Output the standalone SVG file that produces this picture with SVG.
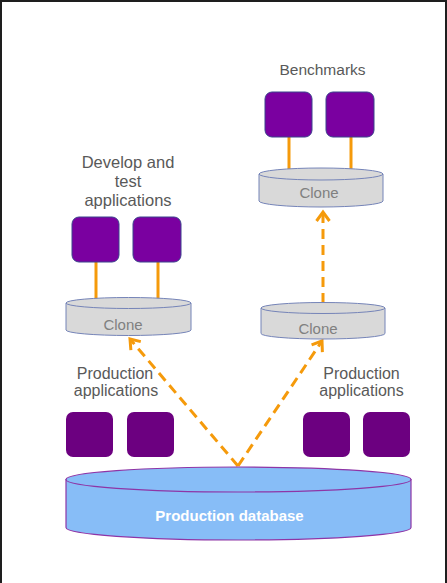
<svg xmlns="http://www.w3.org/2000/svg" width="447" height="583" viewBox="0 0 447 583">
<style>
.lbl{font-family:"Liberation Sans",Arial,sans-serif;fill:#595959;text-anchor:middle}
.clone-t{font-family:"Liberation Sans",Arial,sans-serif;fill:#808080;font-size:15px;text-anchor:middle}
.clone{fill:#d9d9d9;stroke:#7584b8;stroke-width:1}
.db{fill:#87bdf7;stroke:#8e35a6;stroke-width:1.2}
.app{fill:#7a00a0;stroke:#3a428c;stroke-width:1}
.papp{fill:#6c0080}
.link{stroke:#f59a0b;stroke-width:3;fill:none}
.dash{stroke:#f59a0b;stroke-width:3;fill:none;stroke-dasharray:10 6}
</style>
<defs>
<marker id="chev" markerUnits="userSpaceOnUse" markerWidth="20" markerHeight="20" viewBox="-12 -10 16 20" refX="0" refY="0" orient="auto" overflow="visible">
<path d="M-9,-6.5 L0,0 L-9,6.5" fill="none" stroke="#f59a0b" stroke-width="3" stroke-dasharray="none"/>
</marker>
</defs>
<rect x="0" y="0" width="447" height="583" fill="#ffffff"/>
<path d="M1,583 V1 H446 V583" fill="none" stroke="#1e1e1e" stroke-width="2"/>

<g id="label-benchmarks"><text class="lbl" x="322.5" y="75" font-size="15.5">Benchmarks</text></g>
<g id="label-develop"><text class="lbl" font-size="16.5"><tspan x="128" y="168">Develop and</tspan><tspan x="128" y="187">test</tspan><tspan x="128" y="206">applications</tspan></text></g>
<g id="label-prod-left"><text class="lbl" font-size="16"><tspan x="115" y="379">Production</tspan><tspan x="116" y="396">applications</tspan></text></g>
<g id="label-prod-right"><text class="lbl" font-size="16"><tspan x="361.5" y="379">Production</tspan><tspan x="361.5" y="396">applications</tspan></text></g>

<g id="connectors">
<line class="link" x1="289" y1="137" x2="289" y2="176"/>
<line class="link" x1="351" y1="137" x2="351" y2="176"/>
<line class="link" x1="96" y1="262" x2="96" y2="302"/>
<line class="link" x1="158" y1="262" x2="158" y2="302"/>
<path class="dash" d="M238,466 L130,339" marker-end="url(#chev)"/>
<path class="dash" d="M238,466 L322,341" marker-end="url(#chev)"/>
<path class="dash" d="M323,303 L323,212" marker-end="url(#chev)"/>
</g>

<g id="bench-app-1"><rect class="app" x="265" y="92" width="47" height="45" rx="7"/></g>
<g id="bench-app-2"><rect class="app" x="326" y="92" width="48" height="45" rx="7"/></g>
<g id="dev-app-1"><rect class="app" x="72" y="217" width="47" height="45" rx="7"/></g>
<g id="dev-app-2"><rect class="app" x="133" y="217" width="48" height="45" rx="7"/></g>

<g id="clone-bench">
<path class="clone" d="M259,174 V201 A62,6 0 0 0 383,201 V174 Z"/>
<ellipse class="clone" cx="321" cy="174" rx="62" ry="6"/>
<text class="clone-t" x="319" y="198">Clone</text>
</g>
<g id="clone-dev">
<path class="clone" d="M66,303 V330 A62.5,5.5 0 0 0 191,330 V303 Z"/>
<ellipse class="clone" cx="128.5" cy="303" rx="62.5" ry="5.5"/>
<text class="clone-t" x="123" y="330">Clone</text>
</g>
<g id="clone-mid">
<path class="clone" d="M261,308 V333.5 A62,5.5 0 0 0 385,333.5 V308 Z"/>
<ellipse class="clone" cx="323" cy="308" rx="62" ry="5.5"/>
<text class="clone-t" x="318" y="334">Clone</text>
</g>

<g id="prod-app-1"><rect class="papp" x="66" y="412" width="47" height="45" rx="7"/></g>
<g id="prod-app-2"><rect class="papp" x="127" y="412" width="47" height="45" rx="7"/></g>
<g id="prod-app-3"><rect class="papp" x="303" y="412" width="47" height="45" rx="7"/></g>
<g id="prod-app-4"><rect class="papp" x="363" y="412" width="47" height="45" rx="7"/></g>

<g id="prod-db">
<path class="db" d="M66,479.5 V527.5 A172.5,12.5 0 0 0 411,527.5 V479.5 Z"/>
<ellipse class="db" cx="238.5" cy="479.5" rx="172.5" ry="12.5"/>
<text x="229.5" y="521" font-family="Liberation Sans,Arial,sans-serif" font-size="15" font-weight="bold" fill="#ffffff" text-anchor="middle">Production database</text>
</g>
</svg>
